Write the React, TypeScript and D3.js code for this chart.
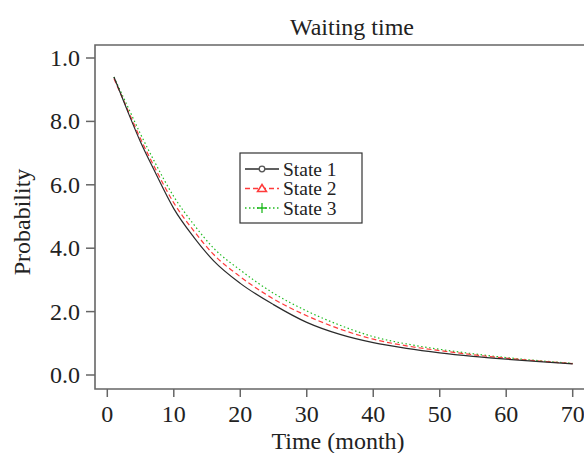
import React, { useRef, useEffect } from "react";
import { select, scaleLinear, line, curveMonotoneX } from "d3";

const WIDTH = 584;
const HEIGHT = 453;
const FONT = "Liberation Serif, Times New Roman, serif";
const AXIS_COLOR = "#666666";

const months = [1, 3, 5, 7, 10, 13, 16, 20, 25, 30, 35, 40, 45, 50, 55, 60, 65, 70];
const state1 = [0.94, 0.835, 0.735, 0.648, 0.525, 0.435, 0.36, 0.289, 0.222, 0.166, 0.128, 0.102, 0.084, 0.07, 0.059, 0.05, 0.042, 0.035];
const state2 = [0.935, 0.84, 0.745, 0.66, 0.543, 0.455, 0.38, 0.31, 0.24, 0.187, 0.145, 0.113, 0.092, 0.077, 0.064, 0.053, 0.044, 0.036];
const state3 = [0.94, 0.85, 0.76, 0.677, 0.563, 0.475, 0.4, 0.331, 0.258, 0.202, 0.157, 0.121, 0.098, 0.081, 0.067, 0.055, 0.045, 0.037];

const xTicks = [0, 10, 20, 30, 40, 50, 60, 70];
const yTicks = [0, 0.2, 0.4, 0.6, 0.8, 1.0];
const yTickLabels = ["0.0", "2.0", "4.0", "6.0", "8.0", "1.0"];

const series = [
  { name: "State 1", values: state1, color: "#2b2b2b", dash: null, marker: "circle" },
  { name: "State 2", values: state2, color: "#ff3b3b", dash: "5,3", marker: "triangle" },
  { name: "State 3", values: state3, color: "#22bb22", dash: "1.5,2.5", marker: "plus" },
];

export default function App() {
  const node = useRef(null);

  useEffect(() => {
    node.current.innerHTML = "";

    const x = scaleLinear().domain([0, 70]).range([107.3, 572.7]);
    const y = scaleLinear().domain([0, 1]).range([375, 58]);

    const left = 95;
    const top = 45;
    const bottom = 389;

    const svg = select(node.current)
      .append("svg")
      .attr("width", WIDTH)
      .attr("height", HEIGHT)
      .style("position", "absolute")
      .style("left", 0)
      .style("top", 0)
      .style("background", "#fff")
      .style("font-family", FONT);

    // frame (right side runs off the picture)
    svg.append("path")
      .attr("d", `M${WIDTH + 5},${top}H${left}V${bottom}H${WIDTH + 5}`)
      .attr("fill", "none")
      .attr("stroke", AXIS_COLOR)
      .attr("stroke-width", 1.6);

    // y ticks
    const yg = svg.append("g");
    yg.selectAll("line")
      .data(yTicks)
      .enter()
      .append("line")
      .attr("x1", left - 9)
      .attr("x2", left)
      .attr("y1", (d) => y(d))
      .attr("y2", (d) => y(d))
      .attr("stroke", AXIS_COLOR)
      .attr("stroke-width", 1.5);
    yg.selectAll("text")
      .data(yTicks)
      .enter()
      .append("text")
      .attr("x", 80)
      .attr("y", (d) => y(d) + 8)
      .attr("text-anchor", "end")
      .style("font-size", "24px")
      .attr("fill", "#222")
      .text((d, i) => yTickLabels[i]);

    // x ticks
    const xg = svg.append("g");
    xg.selectAll("line")
      .data(xTicks)
      .enter()
      .append("line")
      .attr("x1", (d) => x(d))
      .attr("x2", (d) => x(d))
      .attr("y1", bottom)
      .attr("y2", bottom + 8)
      .attr("stroke", AXIS_COLOR)
      .attr("stroke-width", 1.5);
    xg.selectAll("text")
      .data(xTicks)
      .enter()
      .append("text")
      .attr("x", (d) => x(d))
      .attr("y", 422)
      .attr("text-anchor", "middle")
      .style("font-size", "24px")
      .attr("fill", "#222")
      .text((d) => d);

    // titles
    svg.append("text")
      .attr("x", 352)
      .attr("y", 35)
      .attr("text-anchor", "middle")
      .style("font-size", "24px")
      .attr("fill", "#222")
      .text("Waiting time");

    svg.append("text")
      .attr("x", 338)
      .attr("y", 449)
      .attr("text-anchor", "middle")
      .style("font-size", "24px")
      .attr("fill", "#222")
      .text("Time (month)");

    svg.append("text")
      .attr("transform", "translate(30,222) rotate(-90)")
      .attr("text-anchor", "middle")
      .style("font-size", "24px")
      .attr("fill", "#222")
      .text("Probability");

    // curves
    const pathGen = line()
      .x((d) => x(d[0]))
      .y((d) => y(d[1]))
      .curve(curveMonotoneX);

    series.slice().reverse().forEach((s) => {
      svg.append("path")
        .datum(months.map((m, i) => [m, s.values[i]]))
        .attr("fill", "none")
        .attr("stroke", s.color)
        .attr("stroke-width", 1.2)
        .attr("stroke-dasharray", s.dash)
        .attr("d", pathGen);
    });

    // legend
    const lg = svg.append("g");
    lg.append("rect")
      .attr("x", 240)
      .attr("y", 153)
      .attr("width", 122)
      .attr("height", 70)
      .attr("fill", "#fff")
      .attr("stroke", "#333")
      .attr("stroke-width", 1.2);

    series.forEach((s, i) => {
      const cy = 169 + i * 19.5;
      lg.append("line")
        .attr("x1", 245)
        .attr("x2", 279)
        .attr("y1", cy)
        .attr("y2", cy)
        .attr("stroke", s.color)
        .attr("stroke-width", 1.3)
        .attr("stroke-dasharray", s.dash);
      const mx = 262;
      if (s.marker === "circle") {
        lg.append("circle")
          .attr("cx", mx)
          .attr("cy", cy)
          .attr("r", 2.8)
          .attr("fill", "#fff")
          .attr("stroke", "#555")
          .attr("stroke-width", 1.3);
      } else if (s.marker === "triangle") {
        lg.append("path")
          .attr("d", `M${mx},${cy - 4}L${mx + 4.5},${cy + 3}L${mx - 4.5},${cy + 3}Z`)
          .attr("fill", "#fff")
          .attr("stroke", s.color)
          .attr("stroke-width", 1.5);
      } else {
        lg.append("path")
          .attr("d", `M${mx - 5},${cy}H${mx + 5}M${mx},${cy - 5}V${cy + 5}`)
          .attr("fill", "none")
          .attr("stroke", s.color)
          .attr("stroke-width", 1.3);
      }
      lg.append("text")
        .attr("x", 283)
        .attr("y", cy + 6.5)
        .style("font-size", "19.5px")
        .attr("fill", "#222")
        .text(s.name);
    });
  }, []);

  return <div ref={node} />;
}
